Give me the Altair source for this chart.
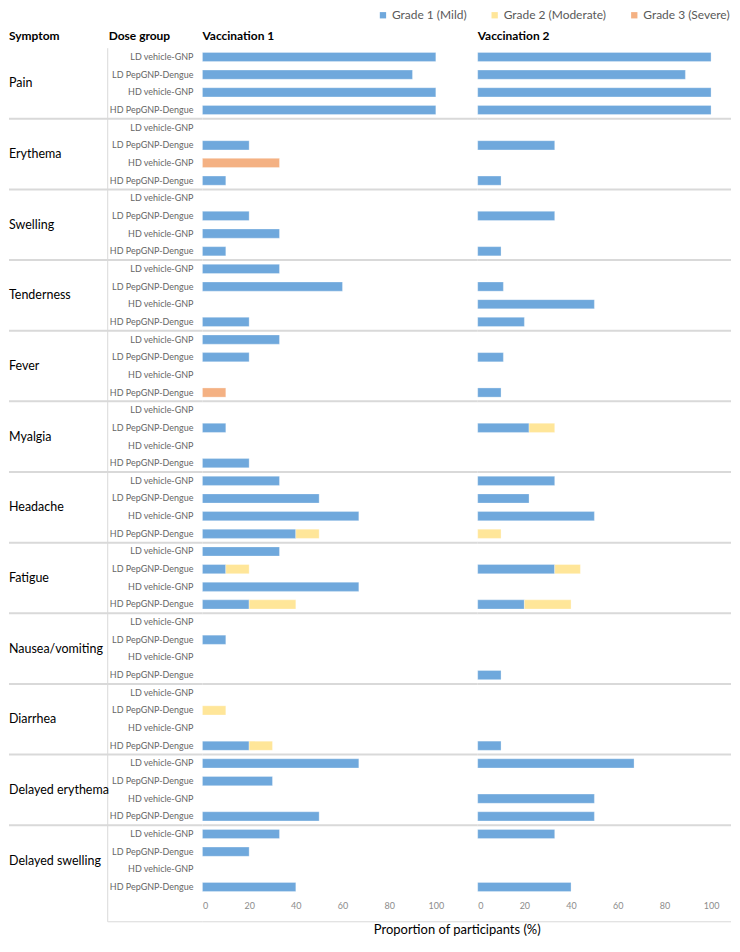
import altair as alt
import pandas as pd

symptoms = ["Pain", "Erythema", "Swelling", "Tenderness", "Fever", "Myalgia",
            "Headache", "Fatigue", "Nausea/vomiting", "Diarrhea",
            "Delayed erythema", "Delayed swelling"]
dose_groups = ["LD vehicle-GNP", "LD PepGNP-Dengue", "HD vehicle-GNP", "HD PepGNP-Dengue"]
grades = ["Grade 1 (Mild)", "Grade 2 (Moderate)", "Grade 3 (Severe)"]
grade_colors = ["#6FA8DC", "#FFE699", "#F4B183"]
vaccinations = ["Vaccination 1", "Vaccination 2"]
header_labels = ["Symptom", "Dose group"]
axis_ticks = [0, 20, 40, 60, 80, 100]
x_title = "Proportion of participants (%)"

# values per symptom, 4 dose groups each (LD veh, LD Pep, HD veh, HD Pep)
v1_grade1 = [100, 90, 100, 100,
             0, 20, 0, 10,
             0, 20, 33, 10,
             33, 60, 0, 20,
             33, 20, 0, 0,
             0, 10, 0, 20,
             33, 50, 67, 40,
             33, 10, 67, 20,
             0, 10, 0, 0,
             0, 0, 0, 20,
             67, 30, 0, 50,
             33, 20, 0, 40]
v1_grade2 = [0, 0, 0, 0,
             0, 0, 0, 0,
             0, 0, 0, 0,
             0, 0, 0, 0,
             0, 0, 0, 0,
             0, 0, 0, 0,
             0, 0, 0, 10,
             0, 10, 0, 20,
             0, 0, 0, 0,
             0, 10, 0, 10,
             0, 0, 0, 0,
             0, 0, 0, 0]
v1_grade3 = [0, 0, 0, 0,
             0, 0, 33, 0,
             0, 0, 0, 0,
             0, 0, 0, 0,
             0, 0, 0, 10,
             0, 0, 0, 0,
             0, 0, 0, 0,
             0, 0, 0, 0,
             0, 0, 0, 0,
             0, 0, 0, 0,
             0, 0, 0, 0,
             0, 0, 0, 0]
v2_grade1 = [100, 89, 100, 100,
             0, 33, 0, 10,
             0, 33, 0, 10,
             0, 11, 50, 20,
             0, 11, 0, 10,
             0, 22, 0, 0,
             33, 22, 50, 0,
             0, 33, 0, 20,
             0, 0, 0, 10,
             0, 0, 0, 10,
             67, 0, 50, 50,
             33, 0, 0, 40]
v2_grade2 = [0, 0, 0, 0,
             0, 0, 0, 0,
             0, 0, 0, 0,
             0, 0, 0, 0,
             0, 0, 0, 0,
             0, 11, 0, 0,
             0, 0, 0, 10,
             0, 11, 0, 20,
             0, 0, 0, 0,
             0, 0, 0, 0,
             0, 0, 0, 0,
             0, 0, 0, 0]
v2_grade3 = [0] * 48

FONT = "Lato"
LINE = "#d9d9d9"
H = 850
W0, W1, W2 = 194, 276, 254
n_rows = len(symptoms) * len(dose_groups)
yscale = alt.Scale(domain=[0, n_rows], reverse=True, nice=False, zero=False)


def build_bars(series):
    recs = []
    for r in range(n_rows):
        start = 0
        for g, vals in zip(grades, series):
            v = vals[r]
            if v > 0:
                recs.append({"row": r, "grade": g, "start": start, "end": start + v,
                             "y0": r + 0.24, "y1": r + 0.76,
                             "symptom": symptoms[r // 4], "dose": dose_groups[r % 4]})
            start += v
    return pd.DataFrame(recs)


legend = alt.Legend(orient="none", legendX=369, legendY=-39, direction="horizontal",
                    title=None, symbolType="square", symbolSize=40, symbolStrokeWidth=0,
                    labelFontSize=12, labelColor="#595959", labelFont=FONT,
                    columnPadding=22, labelOffset=3)

sep_df = pd.DataFrame({"sep": [4 * i for i in range(1, len(symptoms))]})
one = pd.DataFrame({"k": [0]})

# ---- label column ----
rows_df = pd.DataFrame({"yc": [r + 0.5 for r in range(n_rows)],
                        "dose": [dose_groups[r % 4] for r in range(n_rows)]})
sym_df = pd.DataFrame({"mid": [4 * i + 2 for i in range(len(symptoms))], "symptom": symptoms})

dose_text = alt.Chart(rows_df).mark_text(align="right", baseline="middle", fontSize=9,
                                         color="#666666", font=FONT).encode(
    x=alt.value(W0 - 9), y=alt.Y("yc:Q", scale=yscale, axis=None), text="dose:N")
sym_text = alt.Chart(sym_df).mark_text(align="left", baseline="middle", fontSize=12.5,
                                       color="#000000", font=FONT).encode(
    x=alt.value(0), y=alt.Y("mid:Q", scale=yscale, axis=None), text="symptom:N")
seps0 = alt.Chart(sep_df).mark_rule(color=LINE, strokeWidth=2).encode(
    y=alt.Y("sep:Q", scale=yscale, axis=None), x=alt.value(0), x2=alt.value(W0))
vline = alt.Chart(one).mark_rule(color=LINE, strokeWidth=1).encode(
    x=alt.value(99), y=alt.value(0), y2=alt.value(H + 26))
bline0 = alt.Chart(one).mark_rule(color=LINE, strokeWidth=1).encode(
    x=alt.value(99), x2=alt.value(W0), y=alt.value(H + 26))
h1 = alt.Chart(pd.DataFrame({"h": [header_labels[0]]})).mark_text(
    align="left", baseline="alphabetic", fontSize=12, fontWeight="bold", font=FONT,
    color="#000000").encode(x=alt.value(0), y=alt.value(-8), text="h:N")
h2 = alt.Chart(pd.DataFrame({"h": [header_labels[1]]})).mark_text(
    align="left", baseline="alphabetic", fontSize=12, fontWeight="bold", font=FONT,
    color="#000000").encode(x=alt.value(100), y=alt.value(-8), text="h:N")

label_chart = alt.layer(seps0, vline, bline0, dose_text, sym_text, h1, h2).properties(
    width=W0, height=H)


def panel(idx, series, width, show_title):
    df = build_bars(series)
    dmax = width / 2.34
    if show_title:
        xaxis = alt.Axis(values=axis_ticks, domain=False, ticks=False, grid=False,
                         labelColor="#8c8c8c", labelFontSize=9, labelFont=FONT,
                         labelPadding=6, title=x_title, titleX=255, titleY=38,
                         titleAlign="center", titleBaseline="alphabetic",
                         titleFontSize=13, titleFontWeight="normal",
                         titleColor="#000000", titleFont=FONT)
    else:
        xaxis = alt.Axis(values=axis_ticks, domain=False, ticks=False, grid=False,
                         labelColor="#8c8c8c", labelFontSize=9, labelFont=FONT,
                         labelPadding=6, title=None)
    bars = alt.Chart(df).mark_bar(stroke="#ffffff", strokeWidth=0.5, strokeOpacity=0.6).encode(
        x=alt.X("start:Q", scale=alt.Scale(domain=[0, dmax], nice=False, zero=False), axis=xaxis),
        x2="end:Q",
        y=alt.Y("y0:Q", scale=yscale,
                axis=alt.Axis(domain=True, domainColor=LINE, domainWidth=1, labels=False,
                              ticks=False, grid=False, title=None)),
        y2="y1:Q",
        color=alt.Color("grade:N", scale=alt.Scale(domain=grades, range=grade_colors),
                        legend=legend),
        tooltip=["symptom:N", "dose:N", "grade:N"],
    )
    seps = alt.Chart(sep_df).mark_rule(color=LINE, strokeWidth=2).encode(
        y=alt.Y("sep:Q", scale=yscale, axis=None), x=alt.value(0), x2=alt.value(width))
    bline = alt.Chart(one).mark_rule(color=LINE, strokeWidth=1).encode(
        x=alt.value(0), x2=alt.value(width), y=alt.value(H + 26))
    head = alt.Chart(pd.DataFrame({"h": [vaccinations[idx]]})).mark_text(
        align="left", baseline="alphabetic", fontSize=12, fontWeight="bold", font=FONT,
        color="#000000").encode(x=alt.value(0), y=alt.value(-8), text="h:N")
    return alt.layer(seps, bline, bars, head).properties(width=width, height=H)


p1 = panel(0, [v1_grade1, v1_grade2, v1_grade3], W1, True)
p2 = panel(1, [v2_grade1, v2_grade2, v2_grade3], W2, False)

chart = alt.hconcat(label_chart, p1, p2, spacing=0, bounds="flush", padding=0).resolve_scale(
    x="independent", y="independent", color="shared"
).configure(font=FONT).configure_view(stroke=None)

chart.save("out.html", embed_options={"renderer": "svg", "actions": False})
